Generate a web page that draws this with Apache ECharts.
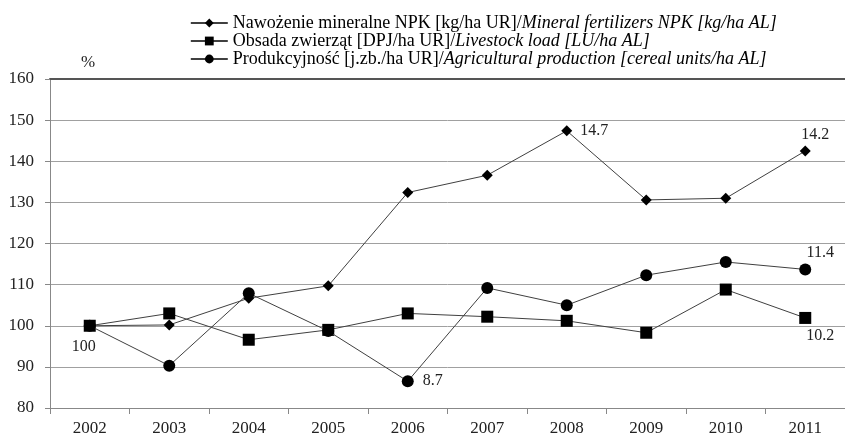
<!DOCTYPE html>
<html><head><meta charset="utf-8">
<script src="https://cdn.jsdelivr.net/npm/echarts@6/dist/echarts.min.js"></script>
<style>html,body{margin:0;padding:0;background:#fff}#c{width:845px;height:437px}</style>
</head><body><div id="c"></div>
<script>
const years = ['2002','2003','2004','2005','2006','2007','2008','2009','2010','2011'];
const npk = [100, 100.2, 106.7, 109.7, 132.4, 136.6, 147.4, 130.6, 131.0, 142.5];
const livestock = [100, 103.0, 96.6, 99.0, 103.0, 102.2, 101.2, 98.3, 108.8, 101.9];
const production = [100, 90.3, 107.9, 98.7, 86.5, 109.2, 105.0, 112.3, 115.5, 113.7];
const namesPl = ['Nawożenie mineralne NPK [kg/ha UR]/', 'Obsada zwierząt [DPJ/ha UR]/', 'Produkcyjność [j.zb./ha UR]/'];
const namesEn = ['Mineral fertilizers NPK [kg/ha AL]', 'Livestock load [LU/ha AL]', 'Agricultural production [cereal units/ha AL]'];
// point annotations: [seriesIndex, categoryIndex, text]
const notes = [[1,0,'100'],[2,4,'8.7'],[0,6,'14.7'],[0,9,'14.2'],[2,9,'11.4'],[1,9,'10.2']];
// label placement per annotation (style only)
const notePlace = [
  {position: 'bottom', offset: [-6, 0], distance: 7},
  {position: 'right', offset: [0, 0], distance: 9},
  {position: 'right', offset: [0, 0], distance: 8},
  {position: 'top', offset: [10, 0], distance: 3},
  {position: 'top', offset: [15, 0], distance: 3},
  {position: 'bottom', offset: [15, 0], distance: 4}
];

const FONT = '"Liberation Serif","Times New Roman",serif';
const chart = echarts.init(document.getElementById('c'));
const values = [npk, livestock, production];
const symbols = ['diamond','rect','circle'];
const sizes = [11, 12, 12];
const series = values.map((arr, si) => ({
  name: namesPl[si] + namesEn[si],
  type: 'line',
  symbol: symbols[si],
  symbolSize: sizes[si],
  itemStyle: {color: '#000'},
  lineStyle: {color: '#404040', width: 1},
  z: 3 + si,
  data: arr.map((v, i) => {
    const k = notes.findIndex(x => x[0] === si && x[1] === i);
    if (k < 0) return v;
    return {value: v, label: Object.assign({show: true, formatter: notes[k][2],
      fontFamily: FONT, fontSize: 16, color: '#222'}, notePlace[k])};
  })
}));
chart.setOption({
  animation: false,
  backgroundColor: '#fff',
  grid: {left: 50, right: -7, top: 79, bottom: 29},
  legend: {
    orient: 'vertical', left: 185, top: 9, itemWidth: 37, itemHeight: 11, itemGap: 0,
    inactiveColor: '#000',
    lineStyle: {color: '#000', width: 1.6},
    textStyle: {fontFamily: FONT, fontSize: 18, color: '#000',
      rich: {n: {fontFamily: FONT, fontSize: 18, color: '#000'}, i: {fontFamily: FONT, fontSize: 18, fontStyle: 'italic', color: '#000'}}},
    formatter: name => { const k = namesPl.findIndex(p => name.startsWith(p)); return '{n|' + namesPl[k] + '}{i|' + namesEn[k] + '}'; }
  },
  xAxis: [{
    type: 'category', data: years, boundaryGap: true,
    axisLine: {lineStyle: {color: '#888', width: 1}},
    axisTick: {show: true, length: 6, lineStyle: {color: '#888'}},
    axisLabel: {fontFamily: FONT, fontSize: 17, color: '#222', margin: 12}
  }, {
    type: 'category', data: years, position: 'top',
    axisLine: {lineStyle: {color: '#555', width: 2}}, axisTick: {show: false}, axisLabel: {show: false}
  }],
  yAxis: {
    type: 'value', min: 80, max: 160, interval: 10,
    name: '%', nameLocation: 'end', nameGap: 8,
    nameTextStyle: {fontFamily: FONT, fontSize: 17, color: '#222', align: 'left', padding: [0,0,0,31]},
    axisLine: {show: true, lineStyle: {color: '#888'}},
    axisTick: {show: true, length: 5, lineStyle: {color: '#888'}},
    axisLabel: {fontFamily: FONT, fontSize: 17, color: '#222', margin: 16},
    splitLine: {lineStyle: {color: '#a0a0a0', width: 1}}
  },
  series: series
});
</script></body></html>
